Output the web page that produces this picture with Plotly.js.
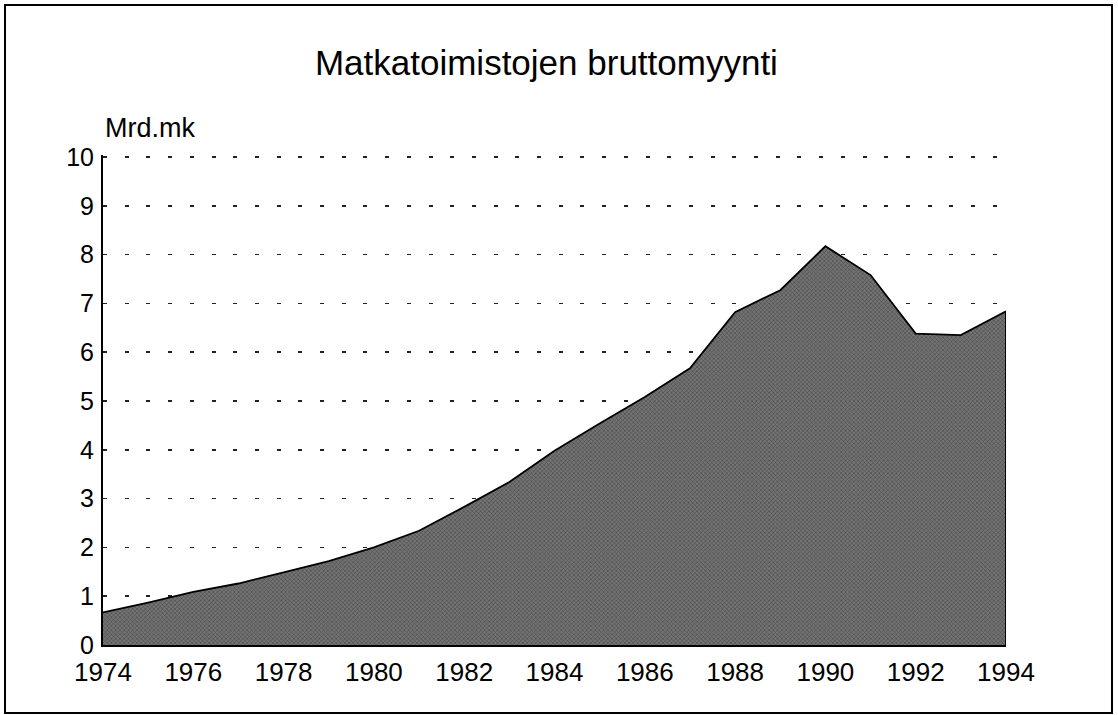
<!DOCTYPE html>
<html>
<head>
<meta charset="utf-8">
<script src="https://cdn.plot.ly/plotly-3.0.1.min.js"></script>
<style>
  html, body { margin: 0; padding: 0; background: #fff; }
  #chart { width: 1118px; height: 715px; }
</style>
</head>
<body>
<div id="chart"></div>
<script>
// Data (Mrd.mk)
const years = [1974, 1975, 1976, 1977, 1978, 1979, 1980, 1981, 1982, 1983, 1984,
               1985, 1986, 1987, 1988, 1989, 1990, 1991, 1992, 1993, 1994];
const sales = [0.67, 0.87, 1.09, 1.26, 1.49, 1.72, 2.0, 2.34, 2.83, 3.34, 3.98,
               4.54, 5.08, 5.67, 6.82, 7.27, 8.17, 7.58, 6.38, 6.35, 6.84];
const xTicks = [1974, 1976, 1978, 1980, 1982, 1984, 1986, 1988, 1990, 1992, 1994];
const yTicks = [0, 1, 2, 3, 4, 5, 6, 7, 8, 9, 10];
const titleText = "Matkatoimistojen bruttomyynti";
const unitText = "Mrd.mk";

const FONT = "Liberation Sans, Arial, Helvetica, sans-serif";

const trace = {
  x: years,
  y: sales,
  type: "scatter",
  mode: "lines",
  fill: "tozeroy",
  fillcolor: "#676767",
  fillpattern: { shape: "x", size: 3, solidity: 0.3, fgcolor: "#3e3e3e", bgcolor: "#747474" },
  line: { color: "#000", width: 1.8 },
  hoverinfo: "x+y",
  showlegend: false
};

const lastX = years[years.length - 1];
const lastY = sales[sales.length - 1];

const layout = {
  width: 1118,
  height: 715,
  margin: { l: 103, r: 112, t: 155, b: 70, pad: 0 },
  paper_bgcolor: "#fff",
  plot_bgcolor: "#fff",
  font: { family: FONT, color: "#000", size: 26 },
  title: {
    text: titleText,
    font: { family: FONT, size: 35, color: "#000" },
    x: 549 / 1118,
    xanchor: "center",
    xref: "paper",
    y: 1 - 63 / 715,
    yanchor: "middle",
    yref: "container"
  },
  xaxis: {
    range: [1974, 1994],
    tickmode: "array",
    tickvals: xTicks,
    ticktext: xTicks.map(String),
    ticks: "",
    ticklabelstandoff: 3,
    showgrid: false,
    zeroline: false,
    showline: true,
    linecolor: "#000",
    linewidth: 2,
    tickfont: { family: FONT, size: 26, color: "#000" }
  },
  yaxis: {
    range: [0, 10.04],
    tickmode: "array",
    tickvals: yTicks,
    ticktext: yTicks.map(String),
    ticks: "",
    ticklabelstandoff: 2,
    showgrid: true,
    gridcolor: "#222",
    gridwidth: 1.5,
    griddash: "4px,17.7px",
    zeroline: false,
    showline: true,
    linecolor: "#000",
    linewidth: 2,
    tickfont: { family: FONT, size: 25, color: "#000" }
  },
  annotations: [
    {
      text: unitText,
      xref: "paper", yref: "paper",
      x: 0, y: (645 - 128) / 490,
      xanchor: "left", yanchor: "middle",
      showarrow: false,
      font: { family: FONT, size: 27, color: "#000" }
    }
  ],
  shapes: [
    // outer frame around whole chart
    {
      type: "rect", xref: "paper", yref: "paper",
      x0: (5 - 103) / 903, x1: (1112 - 103) / 903,
      y0: (645 - 713) / 490, y1: (645 - 5) / 490,
      line: { color: "#000", width: 2 },
      fillcolor: "rgba(0,0,0,0)",
      layer: "above"
    },
    // right edge of the area
    {
      type: "line", xref: "x", yref: "y",
      x0: lastX, x1: lastX, y0: 0, y1: lastY,
      line: { color: "#000", width: 2 },
      layer: "above"
    }
  ]
};

Plotly.newPlot("chart", [trace], layout, { staticPlot: true, displayModeBar: false });
</script>
</body>
</html>
